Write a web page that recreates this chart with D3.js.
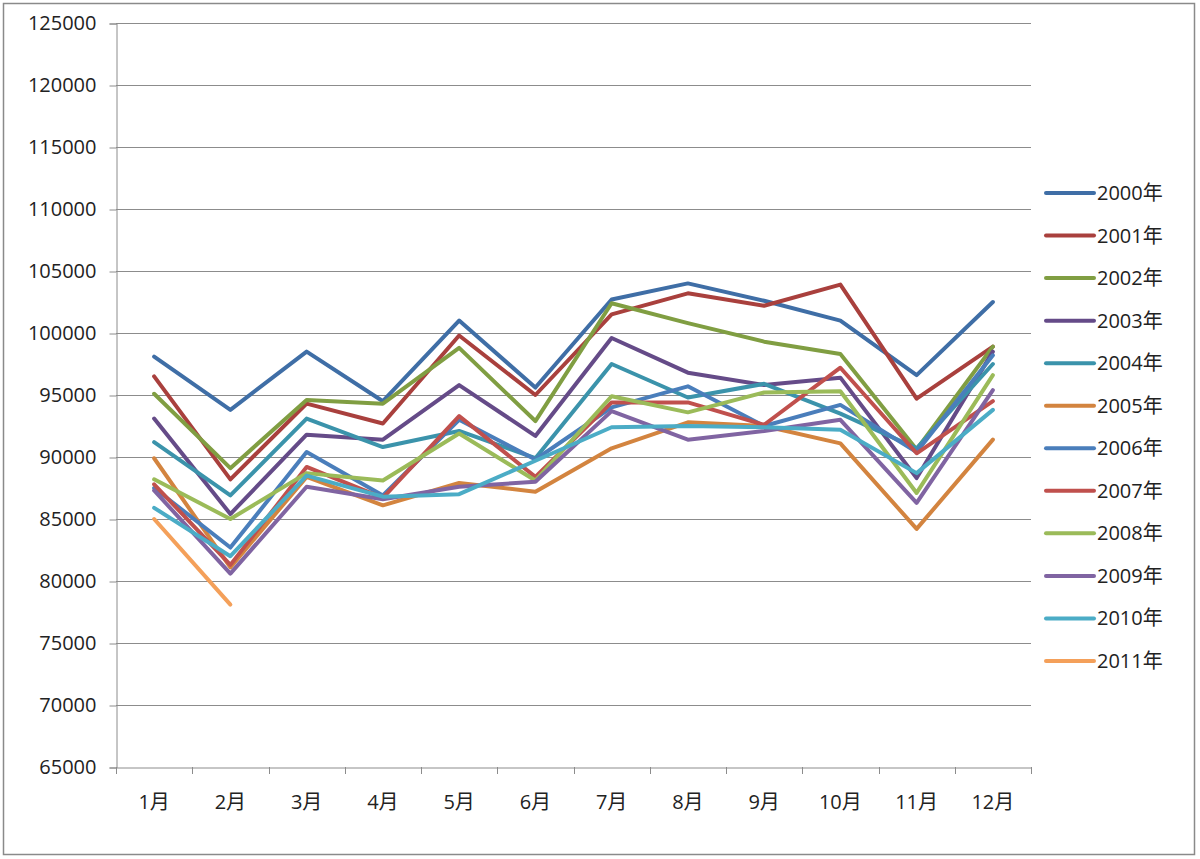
<!DOCTYPE html>
<html>
<head>
<meta charset="utf-8">
<script src="https://cdn.jsdelivr.net/npm/d3@7"></script>
<style>
  body { margin: 0; background: #fff; }
  svg text { font-family: "Open Sans", "Noto Sans CJK JP", sans-serif; fill: #222; }
</style>
</head>
<body>
<svg id="chart" width="1200" height="859"></svg>
<script>
// months on the x axis
const months = ["1月","2月","3月","4月","5月","6月","7月","8月","9月","10月","11月","12月"];
const years = ["2000年","2001年","2002年","2003年","2004年","2005年","2006年","2007年","2008年","2009年","2010年","2011年"];
const yTicks = [65000,70000,75000,80000,85000,90000,95000,100000,105000,110000,115000,120000,125000];

// one array per year
const y2000 = [98100, 93800, 98500, 94500, 101000, 95600, 102700, 104000, 102600, 101000, 96600, 102500];
const y2001 = [96500, 88200, 94300, 92700, 99800, 95000, 101500, 103200, 102200, 103900, 94700, 98900];
const y2002 = [95100, 89100, 94600, 94300, 98800, 92900, 102400, 100800, 99300, 98300, 90600, 98900];
const y2003 = [93100, 85400, 91800, 91400, 95800, 91700, 99600, 96800, 95800, 96400, 88300, 98500];
const y2004 = [91200, 86900, 93100, 90800, 92100, 89900, 97500, 94800, 95900, 93500, 90700, 97500];
const y2005 = [89900, 81100, 88400, 86100, 87900, 87200, 90700, 92800, 92500, 91100, 84200, 91400];
const y2006 = [87500, 82700, 90400, 86900, 93000, 89800, 94000, 95700, 92500, 94200, 90400, 98200];
const y2007 = [87800, 81300, 89200, 86700, 93300, 88400, 94400, 94400, 92600, 97200, 90300, 94500];
const y2008 = [88200, 85000, 88700, 88100, 91900, 88100, 94900, 93600, 95200, 95300, 87100, 96600];
const y2009 = [87300, 80600, 87600, 86600, 87600, 88000, 93700, 91400, 92100, 93000, 86300, 95400];
const y2010 = [85900, 82000, 88500, 86800, 87000, 89700, 92400, 92500, 92400, 92200, 88700, 93800];
const y2011 = [85000, 78100, null, null, null, null, null, null, null, null, null, null];

const colors = ["#3f6ea6","#a9403d","#809e42","#654b88","#3b93ab","#d3843f",
                "#4a7ebb","#c0504d","#9bbb59","#8064a2","#4bacc6","#f4a05a"];

const series = [y2000,y2001,y2002,y2003,y2004,y2005,y2006,y2007,y2008,y2009,y2010,y2011]
  .map((values, i) => ({ name: years[i], values, color: colors[i] }));

const svg = d3.select("#chart");

// outer frame
svg.append("rect")
  .attr("x", 3.5).attr("y", 3.5)
  .attr("width", 1191).attr("height", 851)
  .attr("fill", "none").attr("stroke", "#8a8a8a").attr("stroke-width", 1.5);

const plotL = 116, plotR = 1031, plotT = 23, plotB = 767;

const x = d3.scaleBand().domain(months).range([plotL, plotR]);
const y = d3.scaleLinear().domain([65000, 125000]).range([plotB, plotT]);

// gridlines
svg.append("g")
  .selectAll("line")
  .data(yTicks.slice(1))
  .join("line")
  .attr("x1", plotL).attr("x2", plotR)
  .attr("y1", d => Math.round(y(d)) + 0.5).attr("y2", d => Math.round(y(d)) + 0.5)
  .attr("stroke", "#8c8c8c").attr("stroke-width", 1);

// y axis
const yAxis = d3.axisLeft(y).tickValues(yTicks).tickSize(7).tickPadding(13).tickFormat(d => d);
svg.append("g")
  .attr("transform", `translate(${plotL + 0.5},0.5)`)
  .call(yAxis)
  .call(g => g.select(".domain").attr("stroke", "#8c8c8c"))
  .call(g => g.selectAll(".tick line").attr("stroke", "#8c8c8c"))
  .call(g => g.selectAll("text").attr("font-size", 20).style("fill", "#222"));

// x axis: ticks sit on the band boundaries
const xAxis = d3.axisBottom(x).tickSize(0).tickPadding(27);
svg.append("g")
  .attr("transform", `translate(0,${plotB + 0.5})`)
  .call(xAxis)
  .call(g => g.select(".domain").attr("stroke", "#8c8c8c"))
  .call(g => g.selectAll("text").attr("font-size", 20).style("fill", "#222"));

svg.append("g")
  .selectAll("line")
  .data(months.map(m => x(m)).concat([plotR]))
  .join("line")
  .attr("x1", d => Math.round(d) + 0.5).attr("x2", d => Math.round(d) + 0.5)
  .attr("y1", plotB).attr("y2", plotB + 7)
  .attr("stroke", "#8c8c8c");

// lines
const lineGen = d3.line()
  .defined(d => d != null)
  .x((d, i) => x(months[i]) + x.bandwidth() / 2)
  .y(d => y(d));

svg.append("g")
  .selectAll("path")
  .data(series)
  .join("path")
  .attr("d", d => lineGen(d.values))
  .attr("fill", "none")
  .attr("stroke", d => d.color)
  .attr("stroke-width", 4)
  .attr("stroke-linejoin", "round")
  .attr("stroke-linecap", "round");

// legend
const legendY = d3.scalePoint().domain(years).range([193, 661]);
const legend = svg.append("g")
  .selectAll("g")
  .data(series)
  .join("g")
  .attr("transform", d => `translate(1046,${legendY(d.name)})`);

legend.append("line")
  .attr("x1", 0).attr("x2", 48)
  .attr("stroke", d => d.color)
  .attr("stroke-width", 4)
  .attr("stroke-linecap", "round");

legend.append("text")
  .attr("x", 51).attr("dy", "0.35em")
  .attr("font-size", 20)
  .text(d => d.name);
</script>
</body>
</html>
